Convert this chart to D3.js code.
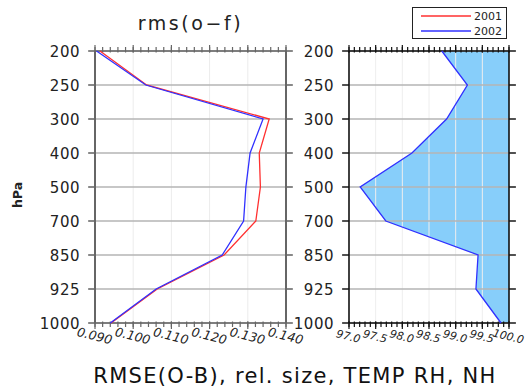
<!DOCTYPE html>
<html>
<head>
<meta charset="utf-8">
<script src="https://cdn.jsdelivr.net/npm/d3@7"></script>
<style>
  html, body { margin: 0; padding: 0; background: #fff; }
  svg { display: block; font-family: "DejaVu Sans", sans-serif; }
</style>
</head>
<body>
<svg id="chart" width="525" height="387"></svg>
<script>
// Pressure levels (hPa), top of the profile first
const levels = ["200", "250", "300", "400", "500", "700", "850", "925", "1000"];
// RMS of observation minus first guess, per level
const rms2001 = [0.0913, 0.1035, 0.1356, 0.1330, 0.1333, 0.1321, 0.1238, 0.1063, 0.0942];
const rms2002 = [0.0904, 0.1033, 0.1340, 0.1306, 0.1295, 0.1289, 0.1233, 0.1060, 0.0940];
// Relative size of 2002 against 2001 (percent)
const relSize = [98.74, 99.22, 98.83, 98.18, 97.21, 97.69, 99.42, 99.38, 99.85];
// Axis tick labels
const rmsTicks = ["0.090", "0.100", "0.110", "0.120", "0.130", "0.140"];
const relTicks = ["97.0", "97.5", "98.0", "98.5", "99.0", "99.5", "100.0"];
const seriesNames = ["2001", "2002"];

const svg = d3.select("#chart");
const yTop = 51, yBottom = 323;

const y = d3.scalePoint().domain(levels).range([yTop, yBottom]);

const xL = d3.scaleLinear().domain([0.090, 0.140]).range([95, 286]);
const xR = d3.scaleLinear().domain([97.0, 100.0]).range([349, 509]);

const red = "#ff3030", blue = "#3030ff";

// light vertical grid at the interior major ticks
function vGrid(g, x, ticks, color) {
  g.append("g").selectAll("line").data(ticks.map(Number).slice(1, -1)).join("line")
    .attr("x1", v => x(v)).attr("x2", v => x(v))
    .attr("y1", yTop).attr("y2", yBottom)
    .attr("stroke", color).attr("stroke-width", 1);
}

// level lines, frame, ticks and tick labels of one panel
function frame(g, x, ticks, minorStep, axisColor, axisWidth, labelX, xFont) {
  const [x0, x1] = x.range();
  const d = x.domain();
  const majors = ticks.map(Number);
  const minors = d3.range(Math.round((d[1] - d[0]) / minorStep) + 1).map(i => d[0] + i * minorStep);

  g.append("g").selectAll("line").data(levels).join("line")
    .attr("x1", x0 - 6).attr("x2", x1 + 6)
    .attr("y1", l => y(l)).attr("y2", l => y(l))
    .attr("stroke", "#b4b4b4").attr("stroke-width", 1.6);

  g.append("line").attr("x1", x0).attr("x2", x0).attr("y1", yTop).attr("y2", yBottom)
    .attr("stroke", axisColor).attr("stroke-width", axisWidth);
  g.append("line").attr("x1", x1).attr("x2", x1).attr("y1", yTop).attr("y2", yBottom)
    .attr("stroke", axisColor).attr("stroke-width", axisWidth);
  g.append("line").attr("x1", x0).attr("x2", x1).attr("y1", yTop).attr("y2", yTop)
    .attr("stroke", axisColor).attr("stroke-width", 1.3);
  g.append("line").attr("x1", x0).attr("x2", x1).attr("y1", yBottom).attr("y2", yBottom)
    .attr("stroke", axisColor).attr("stroke-width", 1.3);

  g.append("g").selectAll("line").data(levels).join("line")
    .attr("x1", x0 - 7).attr("x2", x0)
    .attr("y1", l => y(l)).attr("y2", l => y(l))
    .attr("stroke", axisColor).attr("stroke-width", 1.3);
  g.append("g").selectAll("line").data(levels).join("line")
    .attr("x1", x1).attr("x2", x1 + 7)
    .attr("y1", l => y(l)).attr("y2", l => y(l))
    .attr("stroke", axisColor).attr("stroke-width", 1.3);

  const tickLines = (vals, len, yy, dir) =>
    g.append("g").selectAll("line").data(vals).join("line")
      .attr("x1", v => x(v)).attr("x2", v => x(v))
      .attr("y1", yy - dir * 1.5).attr("y2", yy + dir * len)
      .attr("stroke", axisColor).attr("stroke-width", 1.2);
  tickLines(minors, 4, yTop, -1);
  tickLines(majors, 6, yTop, -1);
  tickLines(minors, 4, yBottom, 1);
  tickLines(majors, 6, yBottom, 1);

  g.append("g").selectAll("text").data(levels).join("text")
    .attr("x", labelX).attr("y", l => y(l) + 5.5)
    .attr("text-anchor", "end")
    .attr("font-size", 15).attr("letter-spacing", 0.5)
    .attr("fill", "#222")
    .text(l => l);

  g.append("g").selectAll("text").data(ticks).join("text")
    .attr("transform", t => `translate(${x(+t) - 1.5},${yBottom + 17}) rotate(14)`)
    .attr("text-anchor", "middle")
    .attr("font-size", xFont).attr("font-style", "italic")
    .attr("fill", "#222")
    .text(t => t);
}

// ---- left panel: RMS profiles ----
const gL = svg.append("g");
vGrid(gL, xL, rmsTicks, "#ececec");
frame(gL, xL, rmsTicks, 0.002, "#666", 2, 80, 12.5);

const lineL = d3.line().x(v => xL(v)).y((v, i) => y(levels[i]));
gL.append("path").attr("d", lineL(rms2001))
  .attr("fill", "none").attr("stroke", red).attr("stroke-width", 1.3);
gL.append("path").attr("d", lineL(rms2002))
  .attr("fill", "none").attr("stroke", blue).attr("stroke-width", 1.3);

// ---- right panel: relative size, shaded toward 100 % ----
const gR = svg.append("g");
const area = d3.area()
  .y((v, i) => y(levels[i]))
  .x0(() => xR(100)).x1(v => xR(v));
gR.append("path").attr("d", area(relSize)).attr("fill", "#87cefa");
vGrid(gR, xR, relTicks, "#eeeeee");
frame(gR, xR, relTicks, 0.1, "#111", 1.6, 334, 11);
gR.append("path")
  .attr("d", d3.line().x(v => xR(v)).y((v, i) => y(levels[i]))(relSize))
  .attr("fill", "none").attr("stroke", blue).attr("stroke-width", 1.3);

// ---- titles ----
svg.append("text")
  .attr("x", (xL.range()[0] + xL.range()[1]) / 2).attr("y", 30)
  .attr("text-anchor", "middle")
  .attr("font-size", 19).attr("letter-spacing", 2.6)
  .attr("fill", "#222")
  .text("rms(o\u2212f)");

svg.append("text")
  .attr("transform", "translate(22,195) rotate(-90)")
  .attr("text-anchor", "middle")
  .attr("font-size", 12.5).attr("font-weight", "bold")
  .attr("fill", "#222")
  .text("hPa");

svg.append("text")
  .attr("x", 295).attr("y", 383)
  .attr("text-anchor", "middle")
  .attr("font-size", 21).attr("letter-spacing", 1.3)
  .attr("fill", "#111")
  .text("RMSE(O-B), rel. size, TEMP RH, NH");

// ---- legend ----
const lg = svg.append("g");
lg.append("rect").attr("x", 412.5).attr("y", 7.5).attr("width", 94).attr("height", 31)
  .attr("fill", "#fff").attr("stroke", "#222").attr("stroke-width", 1);
[red, blue].forEach((c, i) => {
  const yy = 16 + i * 15;
  lg.append("line").attr("x1", 421).attr("x2", 471).attr("y1", yy).attr("y2", yy)
    .attr("stroke", c).attr("stroke-width", 1.3);
  lg.append("text").attr("x", 474).attr("y", yy + 4)
    .attr("font-size", 11).attr("fill", "#222")
    .text(seriesNames[i]);
});
</script>
</body>
</html>
